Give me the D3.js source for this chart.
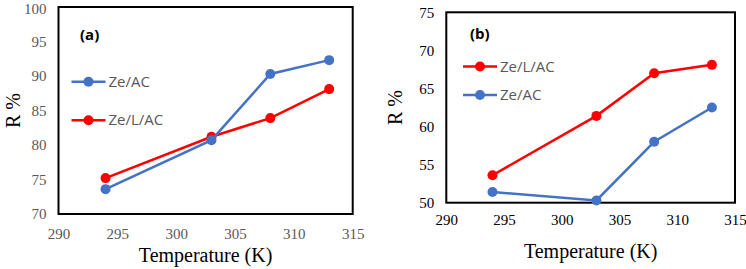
<!DOCTYPE html>
<html>
<head>
<meta charset="utf-8">
<script src="https://cdn.jsdelivr.net/npm/d3@7"></script>
</head>
<body style="margin:0">
<svg id="chart" width="746" height="269"></svg>
<script>
// temperatures (K)
const temps = [294, 303, 308, 313];

// panel (a)
const aZeAC = [73.6, 80.7, 90.3, 92.3];
const aZeLAC = [75.2, 81.2, 83.9, 88.1];
const aXTicks = [290, 295, 300, 305, 310, 315];
const aYTicks = [70, 75, 80, 85, 90, 95, 100];

// panel (b)
const bZeLAC = [53.6, 61.4, 67.0, 68.1];
const bZeAC = [51.4, 50.3, 58.0, 62.5];
const bXTicks = [290, 295, 300, 305, 310, 315];
const bYTicks = [50, 55, 60, 65, 70, 75];

const blue = '#4472C4';
const red = '#FF0000';
const serifFont = 'Liberation Serif';
const sansFont = 'Open Sans';

const svg = d3.select('#chart');

function drawPanel(opt) {
	const g = svg.append('g');
	const x = d3.scaleLinear().domain([290, 315]).range([opt.left, opt.right]);
	const y = d3.scaleLinear().domain(opt.yDomain).range([opt.bottom, opt.top]);

	// frame
	g.append('rect')
		.attr('x', opt.left).attr('y', opt.top)
		.attr('width', opt.right - opt.left)
		.attr('height', opt.bottom - opt.top)
		.attr('fill', 'none')
		.attr('stroke', '#000')
		.attr('stroke-width', 2);

	// axes with no lines, only labels
	const xAxis = g.append('g')
		.attr('transform', `translate(0,${opt.bottom})`)
		.call(d3.axisBottom(x).tickValues(opt.xTicks).tickSize(0).tickPadding(opt.xPad));
	const yAxis = g.append('g')
		.attr('transform', `translate(${opt.left},0)`)
		.call(d3.axisLeft(y).tickValues(opt.yTicks).tickSize(0).tickPadding(opt.yPad));
	[xAxis, yAxis].forEach(a => {
		a.attr('font-family', serifFont).attr('font-size', 15);
		a.select('.domain').remove();
		a.selectAll('text')
			.attr('fill', opt.tickColor)
			.attr('font-family', serifFont)
			.style('font-family', `'${serifFont}'`)
			.style('font-size', '15px');
	});
	// keep the top y label inside the picture
	yAxis.selectAll('text').filter(d => y(d) < 9).attr('dy', '0.45em');

	// titles
	g.append('text')
		.attr('x', (opt.left + opt.right) / 2)
		.attr('y', opt.xTitleY)
		.attr('text-anchor', 'middle')
		.attr('font-family', serifFont)
		.style('font-family', `'${serifFont}'`)
		.style('font-size', '20px')
		.attr('fill', '#000')
		.text('Temperature (K)');
	g.append('text')
		.attr('transform', `translate(${opt.yTitleX},${(opt.top + opt.bottom) / 2}) rotate(-90)`)
		.attr('text-anchor', 'middle')
		.attr('font-family', serifFont)
		.style('font-family', `'${serifFont}'`)
		.style('font-size', '20px')
		.attr('fill', '#000')
		.text('R %');

	// panel letter
	g.append('text')
		.attr('x', opt.tagX).attr('y', opt.tagY)
		.attr('dy', '0.35em')
		.attr('font-family', sansFont)
		.style('font-family', `'${sansFont}'`)
		.style('font-weight', 'bold')
		.style('font-size', '15px')
		.attr('fill', '#000')
		.text(opt.tag);

	const line = d3.line()
		.x((d, i) => x(temps[i]))
		.y(d => y(d));

	opt.series.forEach(s => {
		g.append('path')
			.datum(s.values)
			.attr('d', line)
			.attr('fill', 'none')
			.attr('stroke', s.color)
			.attr('stroke-width', 2.5);
		g.selectAll(null)
			.data(s.values)
			.enter().append('circle')
			.attr('cx', (d, i) => x(temps[i]))
			.attr('cy', d => y(d))
			.attr('r', 5)
			.attr('fill', s.color);
	});

	// legend
	opt.legend.forEach((s, i) => {
		const ly = opt.legY + i * opt.legStep;
		g.append('line')
			.attr('x1', opt.legX).attr('x2', opt.legX + 34)
			.attr('y1', ly).attr('y2', ly)
			.attr('stroke', s.color).attr('stroke-width', 2.5);
		g.append('circle')
			.attr('cx', opt.legX + 17).attr('cy', ly).attr('r', 5)
			.attr('fill', s.color);
		g.append('text')
			.attr('x', opt.legX + 37).attr('y', ly)
			.attr('dy', '0.35em')
			.attr('font-family', sansFont)
			.style('font-family', `'${sansFont}'`)
			.style('font-size', '15px')
			.attr('fill', '#595959')
			.text(s.name);
	});
}

const aSeries = [
	{name: 'Ze/AC', values: aZeAC, color: blue},
	{name: 'Ze/L/AC', values: aZeLAC, color: red}
];
drawPanel({
	left: 58.5, right: 352.7, top: 7, bottom: 214,
	yDomain: [70, 100], xTicks: aXTicks, yTicks: aYTicks,
	tickColor: '#595959', xPad: 14, yPad: 12,
	xTitleY: 262, yTitleX: 20,
	tag: '(a)', tagX: 80, tagY: 35,
	series: [aSeries[1], aSeries[0]],
	legend: aSeries, legX: 71.5, legY: 81.7, legStep: 38.5
});

const bSeries = [
	{name: 'Ze/L/AC', values: bZeLAC, color: red},
	{name: 'Ze/AC', values: bZeAC, color: blue}
];
drawPanel({
	left: 446.3, right: 735, top: 12.3, bottom: 202.7,
	yDomain: [50, 75], xTicks: bXTicks, yTicks: bYTicks,
	tickColor: '#000', xPad: 12, yPad: 12,
	xTitleY: 258, yTitleX: 402,
	tag: '(b)', tagX: 470, tagY: 33.5,
	series: [bSeries[1], bSeries[0]],
	legend: bSeries, legX: 463, legY: 66.5, legStep: 28.5
});
</script>
</body>
</html>
